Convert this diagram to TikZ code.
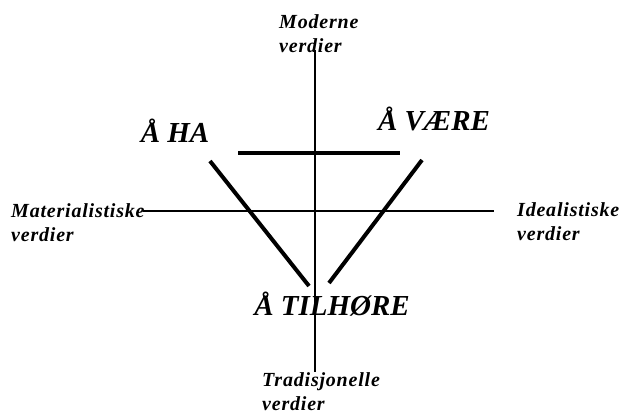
\documentclass[tikz,border=0pt]{standalone}
\usepackage{fontspec}
\setmainfont{Liberation Serif}
\newfontfamily\axisfont[LetterSpace=4]{Liberation Serif}
\begin{document}
\begin{tikzpicture}[x=1pt,y=-1pt,
    axislabel/.style={font=\axisfont\fontsize{20}{24}\selectfont\bfseries\itshape,align=left,inner sep=0pt,anchor=base west},
    pole/.style={font=\fontsize{29}{32}\selectfont\bfseries\itshape,inner sep=0pt,anchor=base},
    bar/.style={line width=4pt}]
    \useasboundingbox (0,0) rectangle (621,418);
    % labels at the ends of the axes (anchored on the last line)
    \node[axislabel] (moderne) at (279,52) {Moderne\\verdier};
    \node[axislabel] (materiell) at (11,241) {Materialistiske\\verdier};
    \node[axislabel] (ideal) at (517,240) {Idealistiske\\verdier};
    \node[axislabel] (tradisjon) at (262,410) {Tradisjonelle\\verdier};
    % the three poles
    \node[pole] (ha) at (175,142) {Å HA};
    \node[pole] (vaere) at (434,130) {Å VÆRE};
    \node[pole] (tilhore) at (332,315) {Å TILHØRE};
    % axes
    \coordinate (top) at (315,50);
    \coordinate (bottom) at (315,372);
    \coordinate (left) at (143,211);
    \coordinate (right) at (494,211);
    \draw[line width=1.1pt] (top) -- (bottom);
    \draw[line width=1.1pt] (left) -- (right);
    % triangle of bars
    \draw[bar] (238,153) -- (400,153);
    \draw[bar] (210,161) -- (309,286);
    \draw[bar] (422,160) -- (329,283);
\end{tikzpicture}
\end{document}
